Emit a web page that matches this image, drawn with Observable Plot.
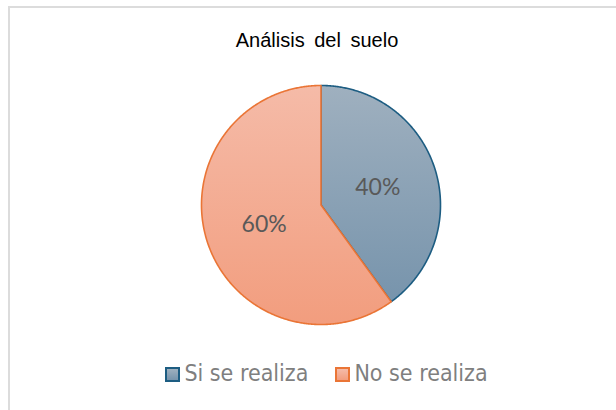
<!DOCTYPE html>
<html>
<head>
<meta charset="utf-8">
<script src="https://cdn.jsdelivr.net/npm/d3@7"></script>
<script src="https://cdn.jsdelivr.net/npm/@observablehq/plot@0.6"></script>
<style>
  html, body { margin: 0; padding: 0; background: #fff; }
  body { width: 616px; height: 410px; overflow: hidden; position: relative; }
  #frame { position: absolute; left: 8px; top: 6px; width: 700px; height: 500px; border: 2px solid #dcdcdc; box-sizing: border-box; }
  #title { position: absolute; left: 0; top: 28px; width: 634px; text-align: center; font-family: "Liberation Sans", Arial, sans-serif; font-size: 20px; color: #000; word-spacing: 4px; line-height: 24px; }
  #chart { position: absolute; left: 0; top: 60px; }
  #legend { position: absolute; left: 0; top: 359px; width: 653px; display: flex; justify-content: center; align-items: center; font-family: "DejaVu Sans Condensed", "DejaVu Sans", sans-serif; font-size: 23px; color: #7f7f7f; line-height: 28px; }
  .item { display: flex; align-items: center; }
  .sw { width: 11px; height: 11px; border: 2px solid; margin-right: 4px; margin-top: 3px; }
  .gap { width: 27px; }
</style>
</head>
<body>
<div id="frame"></div>
<div id="title">Análisis del suelo</div>
<div id="chart"></div>
<div id="legend"></div>
<script>
const categories = ["Si se realiza", "No se realiza"];
const values = [40, 60];
const labels = ["40%", "60%"];

const gradTop = ["#9fb0bf", "#f5bba8"];
const gradBottom = ["#7794ac", "#f29d7e"];
const strokes = ["#1d5d82", "#ea7536"];

const arcs = d3.pie().sort(null).value(d => d)(values);

// slice outlines sampled along the arc (unit circle), center -> arc -> center
const slices = arcs.map((a, i) => {
  const pts = [{x: 0, y: 0}];
  const n = Math.max(2, Math.ceil((a.endAngle - a.startAngle) / (Math.PI / 360)));
  for (let k = 0; k <= n; k++) {
    const t = a.startAngle + (a.endAngle - a.startAngle) * k / n;
    pts.push({x: Math.sin(t), y: Math.cos(t)});
  }
  pts.push({x: 0, y: 0});
  return pts;
});

const labelData = arcs.map((a, i) => {
  const m = (a.startAngle + a.endAngle) / 2;
  return {x: 0.5 * Math.sin(m), y: 0.5 * Math.cos(m), text: labels[i]};
});

const W = 616, H = 290, R = 119.5, cx = 320.5, cy = 144.5;

const plot = Plot.plot({
  width: W,
  height: H,
  margin: 0,
  x: {domain: [-cx / R, (W - cx) / R], axis: null},
  y: {domain: [-(H - cy) / R, cy / R], axis: null},
  marks: [
    ...slices.map((pts, i) => Plot.line(pts, {
      x: "x", y: "y",
      fill: `url(#grad${i})`,
      stroke: strokes[i],
      strokeWidth: 1.6,
      strokeLinejoin: "round"
    })),
    Plot.text(labelData, {
      x: "x", y: "y", text: "text",
      fontFamily: "Lato, sans-serif",
      fontSize: 23,
      fill: "#595959",
      dy: 1
    })
  ]
});

const defs = d3.select(plot).insert("defs", ":first-child");
categories.forEach((c, i) => {
  const g = defs.append("linearGradient").attr("id", `grad${i}`)
    .attr("x1", 0).attr("y1", 0).attr("x2", 0).attr("y2", 1);
  g.append("stop").attr("offset", "0%").attr("stop-color", gradTop[i]);
  g.append("stop").attr("offset", "100%").attr("stop-color", gradBottom[i]);
});

document.getElementById("chart").appendChild(plot);

const legend = d3.select("#legend");
categories.forEach((c, i) => {
  if (i > 0) legend.append("div").attr("class", "gap");
  const it = legend.append("div").attr("class", "item");
  it.append("div").attr("class", "sw")
    .style("background", `linear-gradient(${gradTop[i]}, ${gradBottom[i]})`)
    .style("border-color", strokes[i]);
  it.append("span").text(c);
});
</script>
</body>
</html>
